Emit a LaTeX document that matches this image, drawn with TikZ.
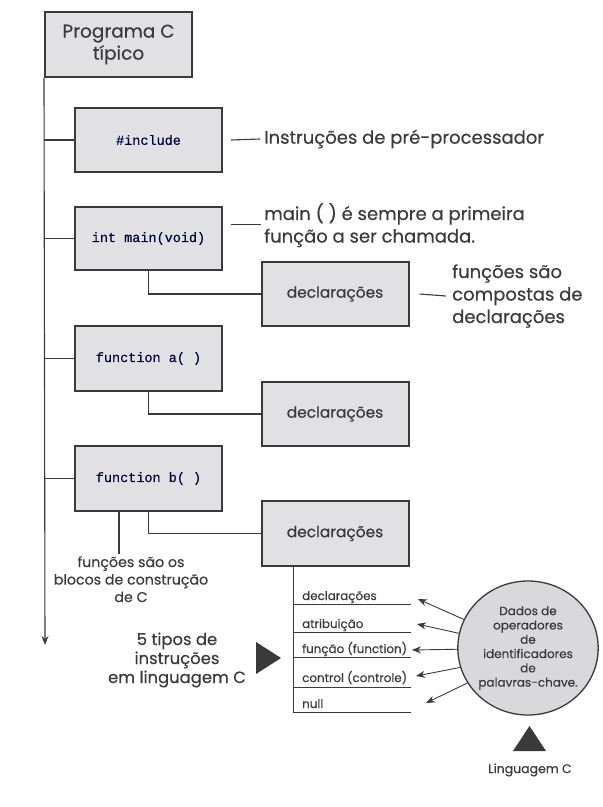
\documentclass[tikz,border=0pt]{standalone}
\usepackage{fontspec}
\setmainfont{Poppins}[FakeBold=0.35]
\newfontfamily\codefont{Liberation Mono}[FakeBold=0.25]
\usetikzlibrary{arrows.meta,shapes.geometric}
\definecolor{boxfill}{HTML}{E1E1E3}
\definecolor{ink}{HTML}{3A3A3A}
\definecolor{ellfill}{HTML}{D9D9DB}
\tikzset{
  bx/.style={draw=ink,line width=2pt,fill=boxfill,rectangle,minimum width=147pt,minimum height=64pt,inner sep=0pt,text=ink},
  codetxt/.style={font=\codefont\fontsize{13.5}{15}\selectfont,text=black!75!blue},
  decl/.style={font=\fontsize{15.4}{18}\selectfont},
  conn/.style={draw=ink,line width=1.1pt},
  note/.style={text=ink,inner sep=0pt,font=\fontsize{18}{22.5}\selectfont,align=left},
  small/.style={text=ink,inner sep=0pt,font=\fontsize{11.9}{13}\selectfont},
  arr/.style={draw=ink,line width=0.9pt,-{Stealth[length=9pt,width=7pt]}}
}
\begin{document}
\begin{tikzpicture}[x=1pt,y=-1pt]
\useasboundingbox (0,0) rectangle (603,807);
% boxes
\node[bx,minimum height=65pt,font=\fontsize{18.5}{22}\selectfont,align=center] (main) at (118.5,44.5) {Programa C\\típico};
\node[bx,codetxt] (inc) at (148.5,140) {\#include};
\node[bx,codetxt,minimum height=63pt] (mainf) at (148.5,238.5) {int main(void)};
\node[bx,decl] (d1) at (335,294) {declarações};
\node[bx,codetxt,minimum height=65pt] (fa) at (148.5,358.5) {function a( )};
\node[bx,decl] (d2) at (335,414) {declarações};
\node[bx,codetxt,minimum height=65pt] (fb) at (148.5,478.5) {function b( )};
\node[bx,decl,minimum height=65pt] (d3) at (335,533.5) {declarações};
% main spine
\coordinate (spineend) at (45,645);
\draw[conn,-{Stealth[length=9pt,width=7pt]}] (main.south west) -- (spineend);
\foreach \n in {inc,mainf,fa,fb}{\draw[conn] (main.south west |- \n.west) -- (\n.west);}
\draw[conn] (mainf.south) -- (mainf.south |- d1.west) -- (d1.west);
\draw[conn] (fa.south) -- (fa.south |- d2.west) -- (d2.west);
\draw[conn] (fb.south) -- (fb.south |- d3.west) -- (d3.west);
% notes
\node[note,anchor=west] (t1) at (264,139) {Instruções de pré-processador};
\draw[conn] ([xshift=8pt]inc.east) -- ([xshift=-4pt]t1.west);
\node[note,anchor=north west] (t2) at (264,203) {main ( ) é sempre a primeira\\função a ser chamada.};
\draw[conn] ([shift={(8,-14)}]mainf.east) -- ++(30,0);
\node[note,anchor=west] (t3) at (452,296) {funções são\\compostas de\\declarações};
\draw[conn] ([xshift=10pt]d1.east) -- ([xshift=-6pt]t3.west);
\node[text=ink,inner sep=0pt,font=\fontsize{14.2}{17.5}\selectfont,align=center,anchor=north] (t4) at (131,556) {funções são os\\blocos de construção\\de C};
\draw[conn] ([xshift=45pt]fb.south west) -- ++(0,42);
% statement list
\coordinate (lstop) at ([xshift=32.5pt]d3.south west);
\coordinate (l1) at (411,604);
\coordinate (l2) at (411,632);
\coordinate (l3) at (411,657);
\coordinate (l4) at (411,687);
\coordinate (l5) at (411,712);
\draw[conn,line width=1pt] (lstop) -- (lstop |- l5);
\foreach \l in {l1,l2,l3,l4,l5}{\draw[conn,line width=1pt] (lstop |- \l) -- (\l);}
\node[small,anchor=base west] (s1) at (302,600) {declarações};
\node[small,anchor=base west] (s2) at (302,628) {atribuição};
\node[small,anchor=base west] (s3) at (302,653) {função (function)};
\node[small,anchor=base west] (s4) at (302,682) {control (controle)};
\node[small,anchor=base west] (s5) at (302,708) {null};
% five types
\node[text=ink,inner sep=0pt,font=\fontsize{16.4}{19}\selectfont,align=center] (five) at (177,660) {5 tipos de\\instruções\\em linguagem C};
\fill[ink] (256,642) -- (281,658) -- (256,674) -- cycle;
% ellipse
\node[ellipse,draw=ink,line width=1.3pt,fill=ellfill,minimum width=128pt,minimum height=134pt,inner sep=0pt,text=ink,align=center,font=\fontsize{12}{14.3}\selectfont] (el) at (528,648) {Dados de\\operadores\\de\\identificadores\\de\\palavras-chave.};
\coordinate (a1) at (418,599);
\coordinate (a2) at (417,624);
\coordinate (a3) at (412,650);
\coordinate (a4) at (416,676);
\coordinate (a5) at (426,703);
\draw[arr] (el.156) -- (a1);
\draw[arr] (el.168) -- (a2);
\draw[arr] (el.181) -- (a3);
\draw[arr] (el.196) -- (a4);
\draw[arr] (el.210) -- (a5);
\fill[ink] (513,751) -- (529.5,726) -- (546,751) -- cycle;
\node[small,font=\fontsize{12.5}{14}\selectfont] (lang) at (530,770) {Linguagem C};
\end{tikzpicture}
\end{document}
